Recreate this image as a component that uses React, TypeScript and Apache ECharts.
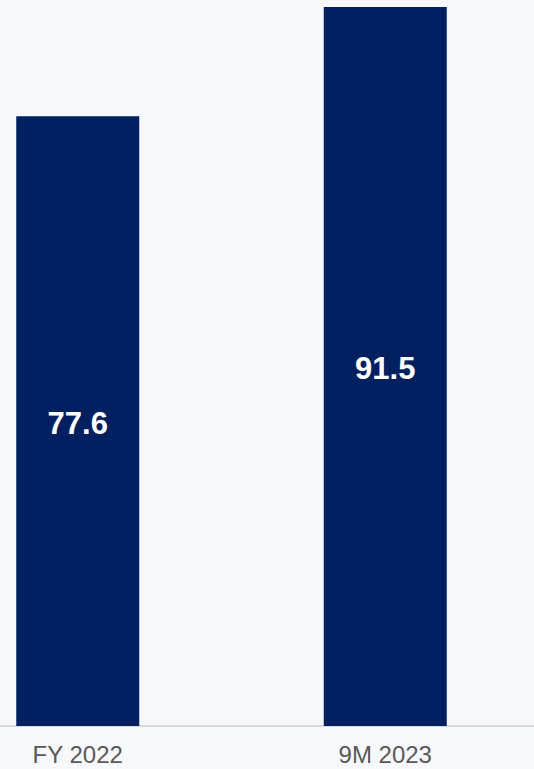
import React, { useEffect, useRef } from "react";
import * as echarts from "echarts";

const categories = ["FY 2022", "9M 2023"];
const values = [77.6, 91.5];

export default function App() {
  const ref = useRef<HTMLDivElement>(null);
  useEffect(() => {
    if (!ref.current) return;
    const chart = echarts.init(ref.current, null, { renderer: "svg" });
    chart.setOption({
      animation: false,
      backgroundColor: "#f7f8fc",
      grid: { left: 0, right: 0, top: 7, bottom: 43, containLabel: false },
      xAxis: {
        type: "category",
        data: categories,
        axisLine: { show: true, lineStyle: { color: "#d9d9d9", width: 2 } },
        axisTick: { show: false },
        axisLabel: {
          color: "#595959",
          fontSize: 24,
          fontFamily: "Liberation Sans, Arial, sans-serif",
          margin: 16,
        },
      },
      yAxis: {
        type: "value",
        min: 0,
        max: 91.5,
        show: false,
        splitLine: { show: false },
      },
      series: [
        {
          type: "bar",
          data: values,
          barWidth: 123,
          itemStyle: { color: "#002060" },
          label: {
            show: true,
            position: "inside",
            offset: [0, 2],
            color: "#ffffff",
            fontWeight: "bold",
            fontSize: 31,
            fontFamily: "Liberation Sans, Arial, sans-serif",
            formatter: (p: any) => p.value.toFixed(1),
          },
        },
      ],
    });
    return () => chart.dispose();
  }, []);
  return (
    <div
      style={{
        position: "absolute",
        left: 0,
        top: 0,
        width: 534,
        height: 769,
        overflow: "hidden",
        background: "#f7f8fc",
      }}
    >
      <div
        ref={ref}
        style={{ position: "absolute", left: -76, top: 0, width: 615, height: 769 }}
      />
    </div>
  );
}
